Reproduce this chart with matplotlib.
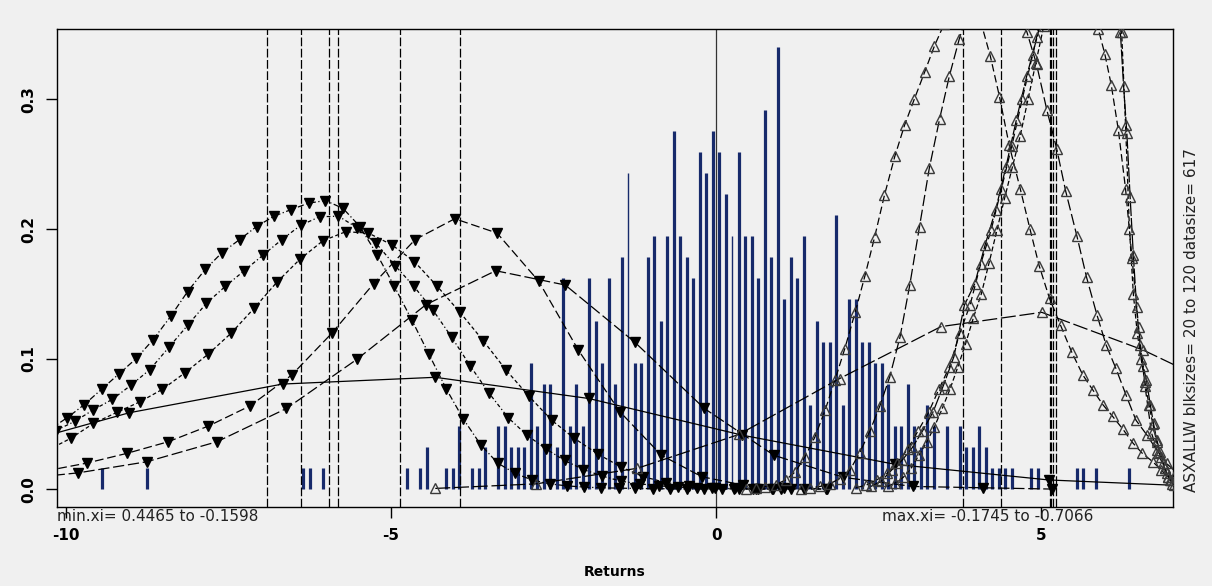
import matplotlib
matplotlib.use("Agg")
import matplotlib.pyplot as plt

plt.rcParams['axes.unicode_minus'] = False
plt.rcParams['font.family'] = ['DejaVu Sans']

W, H = 1212, 586
BG = "#f0f0f0"
BAR = "#172a6b"

# ---------------- histogram (bin centres, counts in 0.1-wide bins) ----------------
bin_centres = [-9.45, -8.75, -6.35, -6.25, -6.05, -4.75, -4.55, -4.45, -4.15, -4.05,
               -3.95, -3.75, -3.65, -3.55, -3.35, -3.25, -3.15, -3.05, -2.95, -2.85,
               -2.75, -2.65, -2.55, -2.45, -2.35, -2.25, -2.15, -2.05, -1.95, -1.85,
               -1.75, -1.65, -1.55, -1.45, -1.35, -1.25, -1.15, -1.05, -0.95, -0.85,
               -0.75, -0.65, -0.55, -0.45, -0.35, -0.25, -0.15, -0.05, 0.05, 0.15,
               0.25, 0.35, 0.45, 0.55, 0.65, 0.75, 0.85, 0.95, 1.05, 1.15,
               1.25, 1.35, 1.45, 1.55, 1.65, 1.75, 1.85, 1.95, 2.05, 2.15,
               2.25, 2.35, 2.45, 2.55, 2.65, 2.75, 2.85, 2.95, 3.05, 3.15,
               3.25, 3.35, 3.55, 3.75, 3.85, 3.95, 4.05, 4.15, 4.25, 4.35,
               4.45, 4.55, 4.85, 4.95, 5.55, 5.65, 5.85, 6.35]
bin_counts = [1, 1, 1, 1, 1, 1, 1, 2, 1, 1,
              3, 1, 1, 2, 3, 3, 2, 2, 2, 6,
              3, 5, 5, 2, 10, 3, 5, 3, 10, 8,
              6, 10, 5, 11, 15, 6, 6, 11, 12, 8,
              12, 17, 12, 11, 10, 16, 15, 17, 16, 14,
              12, 16, 12, 12, 10, 18, 11, 21, 9, 11,
              10, 12, 4, 8, 7, 7, 13, 4, 9, 9,
              7, 7, 6, 6, 5, 3, 3, 5, 3, 2,
              4, 3, 3, 3, 2, 2, 3, 2, 1, 1,
              1, 1, 1, 1, 1, 1, 1, 1]
thin_bins = [-1.35, 0.25]
datasize = 617
binwidth = 0.1

# ---------------- block-minima GEV curves (filled down triangles) ----------------
m1_x = [-10.25, -9.98, -9.72, -9.45, -9.19, -8.92, -8.66, -8.39, -8.13, -7.86,
        -7.60, -7.33, -7.07, -6.80, -6.54, -6.27, -6.01, -5.74, -5.48, -5.21,
        -4.95, -4.68, -4.42, -4.15, -3.89, -3.62, -3.36, -3.09, -2.83, -2.56,
        -2.30, -2.03, -1.77, -1.50, -1.24, -0.97, -0.71, -0.44, -0.18, 0.09,
        0.35, 0.62, 0.88]
m1_y = [0.046, 0.055, 0.065, 0.077, 0.0885, 0.1005, 0.115, 0.133, 0.152, 0.169,
        0.182, 0.192, 0.202, 0.210, 0.215, 0.220, 0.222, 0.216, 0.202, 0.180,
        0.156, 0.130, 0.104, 0.077, 0.054, 0.034, 0.020, 0.012, 0.007, 0.004,
        0.0025, 0.0015, 0.001, 0.0007, 0.0005, 0.0003, 0.0002, 0.0001, 0.0001, 0.0,
        0.0, 0.0, 0.0]

m2_x = [-10.16, -9.87, -9.58, -9.29, -9.00, -8.71, -8.42, -8.13, -7.84, -7.55,
        -7.26, -6.97, -6.68, -6.39, -6.10, -5.81, -5.52, -5.23, -4.94, -4.65,
        -4.36, -4.07, -3.78, -3.49, -3.20, -2.91, -2.62, -2.33, -2.04, -1.75,
        -1.46, -1.17, -0.88, -0.59, -0.30, -0.01, 0.28, 0.57, 0.86, 1.15]
m2_y = [0.045, 0.052, 0.061, 0.069, 0.080, 0.092, 0.109, 0.126, 0.143, 0.156,
        0.168, 0.180, 0.192, 0.203, 0.2095, 0.210, 0.201, 0.189, 0.172, 0.156,
        0.138, 0.117, 0.0946, 0.0736, 0.055, 0.0415, 0.031, 0.022, 0.015, 0.010,
        0.006, 0.004, 0.0025, 0.0015, 0.001, 0.0006, 0.0003, 0.0002, 0.0001, 0.0]

m3_x = [-10.28, -9.93, -9.58, -9.22, -8.87, -8.52, -8.17, -7.81, -7.46, -7.11,
        -6.76, -6.40, -6.05, -5.70, -5.35, -4.99, -4.64, -4.29, -3.94, -3.58,
        -3.23, -2.88, -2.53, -2.18, -1.82, -1.47, -1.12, -0.77, -0.41, -0.06,
        0.29, 0.64, 1.00, 1.35, 1.70]
m3_y = [0.030, 0.039, 0.0505, 0.059, 0.067, 0.0767, 0.0895, 0.104, 0.120, 0.139,
        0.159, 0.177, 0.191, 0.198, 0.197, 0.188, 0.175, 0.156, 0.136, 0.114,
        0.0915, 0.0715, 0.053, 0.039, 0.027, 0.0172, 0.0095, 0.005, 0.0025, 0.0012,
        0.0006, 0.0003, 0.0001, 0.0, 0.0]

m4_x = [-10.31, -9.68, -9.07, -8.43, -7.81, -7.17, -6.53, -5.91, -5.27, -4.63,
        -4.02, -3.37, -2.73, -2.12, -1.48, -0.84, -0.22, 0.42, 1.05, 1.69]
m4_y = [0.014, 0.020, 0.0274, 0.0364, 0.0485, 0.064, 0.0877, 0.120, 0.158, 0.192,
        0.208, 0.197, 0.160, 0.107, 0.0595, 0.026, 0.0095, 0.003, 0.001, 0.0]

m5_x = [-10.88, -9.81, -8.76, -7.68, -6.61, -5.53, -4.46, -3.39, -2.32, -1.25,
        -0.18, 0.89, 1.96, 3.03, 4.10, 5.17]
m5_y = [0.007, 0.0125, 0.021, 0.0364, 0.062, 0.0997, 0.142, 0.168, 0.157, 0.113,
        0.062, 0.026, 0.009, 0.002, 0.001, 0.0]

m6_x = [-11.39, -9.03, -6.67, -4.32, -1.96, 0.40, 2.76, 5.12, 7.48]
m6_y = [0.026, 0.0587, 0.0808, 0.086, 0.0697, 0.0415, 0.019, 0.007, 0.002]

# ---------------- block-maxima GEV curves (open up triangles) ----------------
g1_x = [-4.32, -2.77, -1.21, 0.35, 1.90, 3.46, 5.01, 6.57, 8.12]
g1_y = [0.0005, 0.004, 0.016, 0.042, 0.085, 0.125, 0.136, 0.107, 0.070]

g2_x = [0.46, 0.61, 0.76, 0.92, 1.07, 1.22, 1.37, 1.52, 1.68, 1.83,
        1.98, 2.14, 2.29, 2.44, 2.59, 2.75, 2.90, 3.05, 3.21, 3.36,
        3.51, 3.66, 3.81, 3.96, 4.07, 4.22, 4.36, 4.51, 4.68, 4.83,
        4.97, 5.13, 5.30, 5.47, 5.64, 5.80, 5.95, 6.10, 6.26, 6.41,
        6.56, 6.72, 6.85, 6.95, 7.10]
g2_y = [0.0002, 0.0006, 0.0015, 0.0035, 0.007, 0.0133, 0.025, 0.040, 0.061, 0.084,
        0.108, 0.136, 0.164, 0.194, 0.226, 0.256, 0.280, 0.300, 0.321, 0.341,
        0.358, 0.375, 0.385, 0.38, 0.36, 0.333, 0.302, 0.2646, 0.231, 0.200,
        0.172, 0.1467, 0.126, 0.1056, 0.088, 0.076, 0.065, 0.056, 0.046, 0.0356,
        0.0274, 0.021, 0.0146, 0.0095, 0.005]

g3_x = [1.30, 1.45, 1.60, 1.75, 1.90, 2.06, 2.21, 2.37, 2.52, 2.67,
        2.83, 2.98, 3.13, 3.28, 3.44, 3.59, 3.74, 3.89, 4.04, 4.20,
        4.35, 4.50, 4.65, 4.78, 4.93, 5.09, 5.24, 5.38, 5.55, 5.70,
        5.86, 6.00, 6.15, 6.31, 6.46, 6.63, 6.78, 6.93, 7.08]
g3_y = [0.0003, 0.0008, 0.002, 0.004, 0.008, 0.0146, 0.028, 0.045, 0.064, 0.086,
        0.117, 0.157, 0.202, 0.2467, 0.285, 0.318, 0.346, 0.37, 0.39, 0.40,
        0.395, 0.38, 0.36, 0.352, 0.327, 0.2915, 0.262, 0.229, 0.195, 0.163,
        0.134, 0.111, 0.093, 0.072, 0.053, 0.0415, 0.030, 0.0197, 0.013]

g4_x = [2.15, 2.31, 2.47, 2.63, 2.79, 2.95, 3.11, 3.27, 3.43, 3.59,
        3.75, 3.91, 4.07, 4.23, 4.39, 4.55, 4.71, 4.87, 5.03, 5.45,
        5.88, 5.98, 6.08, 6.19, 6.30, 6.40, 6.50, 6.60, 6.70, 6.80,
        6.90, 7.00, 7.10]
g4_y = [0.001, 0.003, 0.007, 0.012, 0.020, 0.031, 0.045, 0.059, 0.077, 0.094,
        0.120, 0.142, 0.173, 0.199, 0.231, 0.264, 0.300, 0.334, 0.370, 0.600,
        0.354, 0.335, 0.311, 0.276, 0.231, 0.1775, 0.125, 0.079, 0.043, 0.0274,
        0.016, 0.007, 0.003]

g5_x = [2.38, 2.54, 2.70, 2.86, 3.02, 3.18, 3.34, 3.50, 3.66, 3.82,
        3.98, 4.14, 4.30, 4.46, 4.62, 4.78, 4.94, 5.10, 5.50, 6.22,
        6.27, 6.32, 6.37, 6.42, 6.47, 6.52, 6.57, 6.62, 6.68, 6.73,
        6.78, 6.83, 6.88, 6.93, 6.98, 7.05]
g5_y = [0.002, 0.006, 0.0146, 0.022, 0.032, 0.045, 0.0595, 0.080, 0.102, 0.1415,
        0.158, 0.188, 0.2146, 0.248, 0.284, 0.318, 0.348, 0.380, 0.800, 0.352,
        0.310, 0.274, 0.225, 0.180, 0.140, 0.111, 0.095, 0.084, 0.065, 0.0505,
        0.038, 0.0287, 0.020, 0.012, 0.007, 0.003]

g6_x = [2.64, 2.76, 2.88, 3.00, 3.12, 3.24, 3.36, 3.48, 3.60, 3.72,
        3.84, 3.96, 4.08, 4.20, 4.32, 4.44, 4.56, 4.68, 4.80, 4.92,
        5.04, 5.60, 6.24, 6.30, 6.36, 6.42, 6.48, 6.54, 6.60, 6.66,
        6.72, 6.78, 6.84, 6.90, 6.96, 7.02]
g6_y = [0.002, 0.005, 0.009, 0.016, 0.026, 0.036, 0.048, 0.062, 0.077, 0.094,
        0.112, 0.132, 0.150, 0.174, 0.199, 0.224, 0.248, 0.272, 0.300, 0.328,
        0.356, 1.000, 0.352, 0.280, 0.200, 0.150, 0.120, 0.100, 0.082, 0.065,
        0.050, 0.036, 0.025, 0.016, 0.009, 0.004]

# location lines
min_locs = [-6.91, -6.38, -5.95, -5.82, -4.86, -3.94]
max_locs = [3.80, 4.38, 5.13, 5.16, 5.19, 5.23]

x_ticks = [-10, -5, 0, 5]
x_ticklabels = ["-10", "-5", "0", "5"]
y_ticks = [0.0, 0.1, 0.2, 0.3]
y_ticklabels = ["0.0", "0.1", "0.2", "0.3"]

xlabel = "Returns"
min_text = "min.xi= 0.4465 to -0.1598"
max_text = "max.xi= -0.1745 to -0.7066"
side_text = "ASXALLW blksizes= 20 to 120 datasize= 617"

# ---------------- figure ----------------
fig = plt.figure(figsize=(W / 100, H / 100), dpi=100, facecolor=BG)
L, R, T, B = 57, 1173, 29, 507
ax = fig.add_axes([L / W, 1 - B / H, (R - L) / W, (B - T) / H])
ax.set_facecolor(BG)
ax.set_xlim(-10.14, 7.03)
ax.set_ylim(-0.0138, 0.354)

# histogram spikes
dens = [c / (datasize * binwidth) for c in bin_counts]
thick_x = [x for x in bin_centres if x not in thin_bins]
thick_h = [d for x, d in zip(bin_centres, dens) if x not in thin_bins]
thin_x = [x for x in bin_centres if x in thin_bins]
thin_h = [d for x, d in zip(bin_centres, dens) if x in thin_bins]
ax.vlines(thick_x, 0, thick_h, colors=BAR, lw=2.3, zorder=1)
ax.vlines(thin_x, 0, thin_h, colors=BAR, lw=1.0, zorder=1)

# location lines
for v in min_locs + max_locs:
    ax.axvline(v, color="black", lw=0.9, ls=(0, (7, 2)), zorder=2)
ax.axvline(0, color="#333333", lw=0.9, zorder=2)

min_curves = [
    (m1_x, m1_y, (0, (5, 2, 1, 2))),
    (m2_x, m2_y, (0, (3, 2, 1, 2))),
    (m3_x, m3_y, (0, (3, 2))),
    (m4_x, m4_y, (0, (7, 3))),
    (m5_x, m5_y, (0, (9, 3))),
    (m6_x, m6_y, "-"),
]
for xs, ys, ls in min_curves:
    n = min(len(xs), len(ys))
    ax.plot(xs[:n], ys[:n], color="black", lw=0.9, ls=ls, zorder=3)
    ax.plot(xs[:n], ys[:n], ls="none", marker="v", ms=7.5, mfc="black",
            mec="black", zorder=4)

max_curves = [
    (g1_x, g1_y, (0, (12, 3))),
    (g2_x, g2_y, (0, (6, 3))),
    (g3_x, g3_y, (0, (9, 3))),
    (g4_x, g4_y, (0, (6, 3))),
    (g5_x, g5_y, (0, (12, 1.5))),
    (g6_x, g6_y, (0, (4, 2))),
]
for xs, ys, ls in max_curves:
    n = min(len(xs), len(ys))
    ax.plot(xs[:n], ys[:n], color="black", lw=0.9, ls=ls, zorder=3)
    ax.plot(xs[:n], ys[:n], ls="none", marker="^", ms=7.5, mfc="none",
            mec="#3a3a3a", mew=1.0, zorder=4)

for s in ax.spines.values():
    s.set_color("black")
    s.set_linewidth(1.0)

ax.set_xticks(x_ticks)
ax.set_xticklabels(x_ticklabels, fontweight="bold", fontsize=11)
ax.set_yticks(y_ticks)
ax.set_yticklabels(y_ticklabels, fontweight="bold", fontsize=11,
                   rotation=90, va="center")
ax.tick_params(axis="both", direction="out", length=8, width=1,
               color="black", pad=7)

fig.text(615 / W, 1 - 572 / H, xlabel, ha="center", va="center",
         fontsize=10, fontweight="bold")
fig.text(57 / W, 1 - 509 / H, min_text, ha="left", va="top", fontsize=11,
         color="#222222")
fig.text(882 / W, 1 - 509 / H, max_text, ha="left", va="top", fontsize=11,
         color="#222222")
fig.text(1192 / W, 1 - 492 / H, side_text, ha="left", va="center",
         rotation=90, rotation_mode="anchor", fontsize=11, color="#222222")

fig.savefig("out.png", dpi=100, facecolor=BG)
